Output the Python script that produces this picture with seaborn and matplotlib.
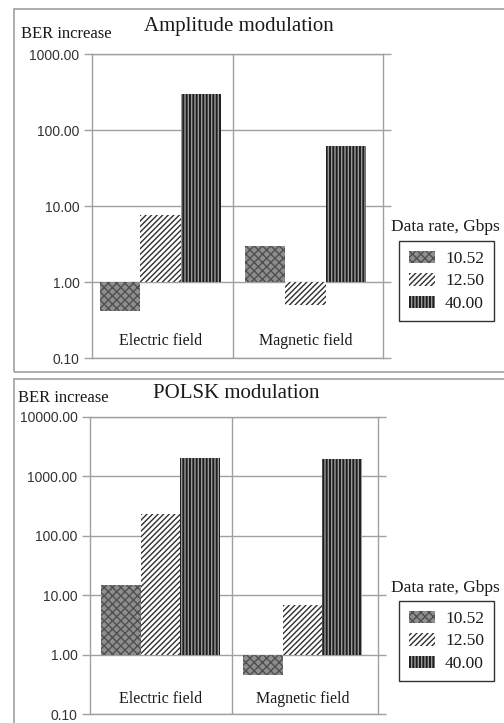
import numpy as np
import pandas as pd
import matplotlib
matplotlib.use("Agg")
import matplotlib.pyplot as plt
from matplotlib.patches import Rectangle
import seaborn as sns

# ---- data ----
categories = ["Electric field", "Magnetic field"]
rates = ["10.52", "12.50", "40.00"]
amp_10 = [0.41, 3.0]
amp_12 = [7.6, 0.50]
amp_40 = [300.0, 62.0]
polsk_10 = [15.0, 0.46]
polsk_12 = [235.0, 6.9]
polsk_40 = [2050.0, 1950.0]

amp_ticks = [0.1, 1.0, 10.0, 100.0, 1000.0]
polsk_ticks = [0.1, 1.0, 10.0, 100.0, 1000.0, 10000.0]


def frame(series):
    rows = []
    for rate, vals in zip(rates, series):
        for cat, v in zip(categories, vals):
            rows.append({"cat": cat, "rate": rate, "logv": np.log10(v)})
    return pd.DataFrame(rows)


sns.set_theme(style="white")
plt.rcParams["font.family"] = ["Liberation Serif", "DejaVu Sans"]

W, H = 504, 723
fig = plt.figure(figsize=(W / 100, H / 100), dpi=100)


def fx(px):
    return px / W


def fy(py):
    return 1 - py / H


GREY = "#a0a0a0"
TXT = "#1a1a1a"
styles = [
    dict(facecolor="#8e8e8e", edgecolor="#505050", hatch="xxxx"),
    dict(facecolor="white", edgecolor="#303030", hatch="//////"),
    dict(facecolor="#1e1e1e", edgecolor="#9a9a9a", hatch="|||||"),
]


def panel(series, ticks, box, title, title_xy, ylab_xy, cat_y, xlim,
          leg_title_xy, leg_xy, frame_box):
    l, t, r, b = box
    ax = fig.add_axes([fx(l), fy(b), fx(r - l), (b - t) / H])
    df = frame(series)
    sns.barplot(data=df, x="cat", y="logv", hue="rate", order=categories,
                hue_order=rates, width=0.835, ax=ax, legend=False,
                saturation=1)
    for cont, st in zip(ax.containers, styles):
        for p in cont:
            p.set_facecolor(st["facecolor"])
            p.set_edgecolor(st["edgecolor"])
            p.set_hatch(st["hatch"])
            p.set_linewidth(0)
    lo, hi = np.log10(ticks[0]), np.log10(ticks[-1])
    ax.set_ylim(lo, hi)
    ax.set_xlim(*xlim)
    ax.set_yticks(np.log10(ticks))
    ax.set_yticklabels([f"{v:.2f}" for v in ticks], family="Liberation Sans",
                       fontsize=10, color="#333333")
    ax.tick_params(axis="y", which="both", left=True, right=True,
                   direction="out", length=6, width=1, color=GREY, pad=3)
    ax.set_xticks([])
    ax.set_xlabel("")
    ax.set_ylabel("")
    ax.grid(axis="y", color=GREY, lw=1)
    ax.set_axisbelow(True)
    for s in ax.spines.values():
        s.set_color(GREY)
        s.set_linewidth(1)
    ax.axvline(0.5, color=GREY, lw=1, zorder=0.5)
    for i, c in enumerate(categories):
        ax.text(i, cat_y, c, transform=ax.get_xaxis_transform(),
                ha="center", va="center", fontsize=11.5, color=TXT)
    fig.text(fx(title_xy[0]), fy(title_xy[1]), title, ha="center",
             va="center", fontsize=15, color=TXT)
    fig.text(fx(ylab_xy[0]), fy(ylab_xy[1]), "BER increase", ha="left",
             va="center", fontsize=12, color=TXT)
    fig.text(fx(leg_title_xy[0]), fy(leg_title_xy[1]), "Data rate, Gbps",
             ha="left", va="center", fontsize=12.5, color=TXT)
    handles = [c[0] for c in ax.containers]
    leg = ax.legend(handles, rates, loc="upper left",
                    bbox_to_anchor=(fx(leg_xy[0]), fy(leg_xy[1])),
                    bbox_transform=fig.transFigure, borderaxespad=0,
                    frameon=True, fancybox=False, edgecolor="black",
                    fontsize=12.5, handlelength=1.5, handleheight=0.75,
                    handletextpad=0.6, labelspacing=0.35, borderpad=0.55)
    leg.get_frame().set_linewidth(1)
    for txt in leg.get_texts():
        txt.set_color(TXT)
    fl, ft, fr, fb = frame_box
    fig.patches.append(Rectangle((fx(fl), fy(fb)), fx(fr - fl), (fb - ft) / H,
                                 transform=fig.transFigure, fill=False,
                                 edgecolor=GREY, lw=1.2))
    return ax


panel([amp_10, amp_12, amp_40], amp_ticks, (92, 54, 383, 358),
      "Amplitude modulation", (239, 26), (21, 34), 0.056, (-0.472, 1.534),
      (391, 227), (399, 241), (13.5, 9.5, 520, 372))
panel([polsk_10, polsk_12, polsk_40], polsk_ticks, (90, 417, 378, 714),
      "POLSK modulation", (236, 394), (18, 398), 0.05, (-0.496, 1.53),
      (391, 588), (399, 601), (13.5, 379.5, 520, 740))

fig.savefig("out.png", dpi=100)
